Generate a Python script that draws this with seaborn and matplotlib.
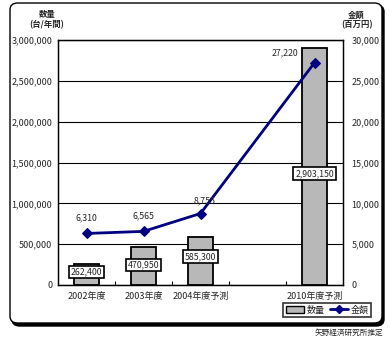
import matplotlib
matplotlib.use("Agg")
import matplotlib.pyplot as plt
import seaborn as sns
import pandas as pd
import numpy as np
from matplotlib.patches import FancyBboxPatch
from matplotlib.lines import Line2D
from matplotlib.patches import Patch
from matplotlib.ticker import FuncFormatter

categories = ["2002年度", "2003年度", "2004年度予測", " ", "2010年度予測"]
quantity = [262400, 470950, 585300, np.nan, 2903150]
amount = [6310, 6565, 8755, np.nan, 27220]
quantity_labels = ["262,400", "470,950", "585,300", "", "2,903,150"]
amount_labels = ["6,310", "6,565", "8,755", "", "27,220"]

sns.set_theme(style="white")
plt.rcParams['font.family'] = ['Liberation Sans Narrow', 'Noto Sans CJK JP', 'DejaVu Sans']

df = pd.DataFrame({"cat": categories, "qty": quantity, "amt": amount})

fig = plt.figure(figsize=(3.9, 3.39), dpi=100)
ax = fig.add_axes([58/390, 1-285/339, 285/390, 245/339])

sns.barplot(data=df, x="cat", y="qty", order=categories, ax=ax,
            color="#b8b8b8", edgecolor="black", linewidth=1.3, width=0.45,
            saturation=1)
ax.set_ylim(0, 3000000)
ax.set_xlim(-0.5, len(categories)-0.5)
ax.set_yticks(np.arange(0, 3000001, 500000))
ax.yaxis.set_major_formatter(FuncFormatter(lambda v, p: f"{int(v):,}"))
ax.grid(axis="y", color="black", linewidth=0.8)
ax.set_axisbelow(True)
for s in ax.spines.values():
    s.set_color("black"); s.set_linewidth(0.9)
ax.set_xlabel(""); ax.set_ylabel("")
ax.tick_params(axis="y", labelsize=6.5, length=0, pad=4)
ax.tick_params(axis="x", labelsize=6.5, length=0, pad=5)
ax.set_xticks(np.arange(len(categories)))
ax.set_xticklabels(categories)
ax.set_xticks(np.arange(0.5, len(categories)-0.5, 1), minor=True)
ax.tick_params(axis="x", which="minor", direction="in", length=3, color="black", width=0.8, bottom=True)

label_frac = [0.6, 0.52, 0.6, 0, 0.47]
for i, (v, lab) in enumerate(zip(quantity, quantity_labels)):
    if not np.isnan(v):
        ax.text(i, v*label_frac[i], lab, ha="center", va="center", fontsize=6.3,
                bbox=dict(boxstyle="square,pad=0.2", fc="white", ec="black", lw=1.2), zorder=5)

ax2 = ax.twinx()
xs = [i for i, a in enumerate(amount) if not np.isnan(a)]
ys = [a for a in amount if not np.isnan(a)]
sns.lineplot(x=xs, y=ys, ax=ax2, color="#000080", linewidth=2, marker="D",
             markersize=5, markeredgecolor="#000080")
ax2.set_ylim(0, 30000)
ax2.set_yticks(np.arange(0, 30001, 5000))
ax2.yaxis.set_major_formatter(FuncFormatter(lambda v, p: f"{int(v):,}"))
ax2.tick_params(axis="y", labelsize=6.5, length=0, pad=6)
ax2.grid(False)
for s in ax2.spines.values():
    s.set_color("black"); s.set_linewidth(0.9)
ax2.set_xlim(-0.5, len(categories)-0.5)

offsets = {0: (0, 8), 1: (0, 8), 2: (3, 6), 4: (-21, 4)}
for i, (v, lab) in enumerate(zip(amount, amount_labels)):
    if not np.isnan(v):
        dx, dy = offsets[i]
        ax2.annotate(lab, (i, v), xytext=(dx, dy), textcoords="offset points",
                     ha="center", va="bottom", fontsize=6.3)

fig.text(47/390, 1-15/339, "数量", ha="center", va="center", fontsize=6, fontweight="bold")
fig.text(47/390, 1-25/339, "(台/年間)", ha="center", va="center", fontsize=6, fontweight="bold")
fig.text(356/390, 1-15/339, "金額", ha="center", va="center", fontsize=6, fontweight="bold")
fig.text(357/390, 1-25/339, "(百万円)", ha="center", va="center", fontsize=6, fontweight="bold")
fig.text(383/390, 1-333/339, "矢野経済研究所推定", ha="right", va="center", fontsize=5.5)

handles = [Patch(facecolor="#b8b8b8", edgecolor="black", label="数量"),
           Line2D([0], [0], color="#000080", lw=2, marker="D", markersize=4, label="金額")]
leg = fig.legend(handles=handles, loc="center", bbox_to_anchor=(327/390, 1-310/339), ncol=2,
                 fontsize=6.5, frameon=True, fancybox=False, edgecolor="black",
                 handlelength=2.0, handletextpad=0.3, columnspacing=0.6, borderpad=0.3)
leg.get_frame().set_linewidth(1.2)

shadow = FancyBboxPatch((12/390, 1-326/339), 372/390, 321/339, boxstyle="round,pad=0,rounding_size=0.02",
                        transform=fig.transFigure, fc="black", ec="black", lw=1, zorder=-2)
frame = FancyBboxPatch((10/390, 1-323/339), 372/390, 320/339, boxstyle="round,pad=0,rounding_size=0.02",
                       transform=fig.transFigure, fc="white", ec="black", lw=1, zorder=-1)
fig.patches.extend([shadow, frame])

fig.savefig("out.png", dpi=100)
